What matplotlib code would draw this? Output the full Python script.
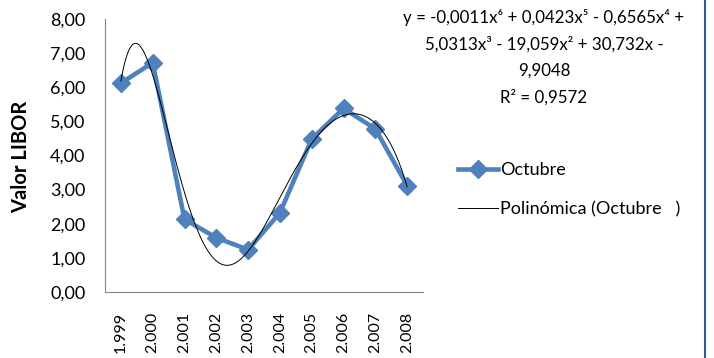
import numpy as np
import matplotlib
matplotlib.use("Agg")
import matplotlib.pyplot as plt
from matplotlib.ticker import FuncFormatter
from matplotlib.lines import Line2D

# datos: LIBOR de octubre por año
years = ["1.999", "2.000", "2.001", "2.002", "2.003", "2.004", "2.005", "2.006", "2.007", "2.008"]
octubre = [6.12, 6.72, 2.13, 1.59, 1.24, 2.32, 4.48, 5.38, 4.78, 3.12]

eq_lines = ["y = -0,0011x⁶ + 0,0423x⁵ - 0,6565x⁴ +",
            "5,0313x³ - 19,059x² + 30,732x -",
            "9,9048",
            "R² = 0,9572"]

plt.rcParams['font.family'] = ['Lato', 'DejaVu Sans']
blue = "#4F81BD"
grey = "#868686"

fig = plt.figure(figsize=(7.14, 3.58), dpi=100)
ax = fig.add_axes([105/714, 1 - 292/358, (423-105)/714, (292-19)/358])

x = np.arange(1, len(years) + 1)
ax.plot(x, octubre, color=blue, lw=3.3, marker="D", ms=9, label="Octubre")

# linea de tendencia polinomica (grado 6), como la de Excel
coef = np.polyfit(x, octubre, 6)
xs = np.linspace(1, 10, 300)
ax.plot(xs, np.polyval(coef, xs), color="black", lw=0.7, label="Polinómica (Octubre   )")

ax.set_xlim(0.5, 10.5)
ax.set_ylim(0, 8)
ax.set_yticks(np.arange(0, 9, 1))
ax.yaxis.set_major_formatter(FuncFormatter(lambda v, p: f"{v:.2f}".replace(".", ",")))
ax.set_xticks(x)
ax.set_xticklabels(years, rotation=90, va="top")
ax.tick_params(axis="both", length=0, colors="black")
ax.tick_params(axis="y", pad=14, labelsize=13)
ax.tick_params(axis="x", pad=14, labelsize=11.5)
for s in ["top", "right"]:
    ax.spines[s].set_visible(False)
for s in ["left", "bottom"]:
    ax.spines[s].set_color(grey)
    ax.spines[s].set_linewidth(0.8)

fig.text(21/714, 1 - 157/358, "Valor LIBOR", rotation=90, ha="center", va="center",
         fontsize=14.5, fontweight="bold")

for i, line in enumerate(eq_lines):
    fig.text(544/714, 1 - (18 + i*26.5)/358, line, ha="center", va="center", fontsize=12.2)

ax.legend(loc="center left", bbox_to_anchor=(442/714, 1 - 190/358), bbox_transform=fig.transFigure,
          frameon=False, fontsize=13, handlelength=2.2, handletextpad=0.1, labelspacing=1.3)

fig.add_artist(Line2D([705/714, 705/714], [0, 1], transform=fig.transFigure, color="#385D8A", lw=1.5))

fig.savefig("out.png", dpi=100)
